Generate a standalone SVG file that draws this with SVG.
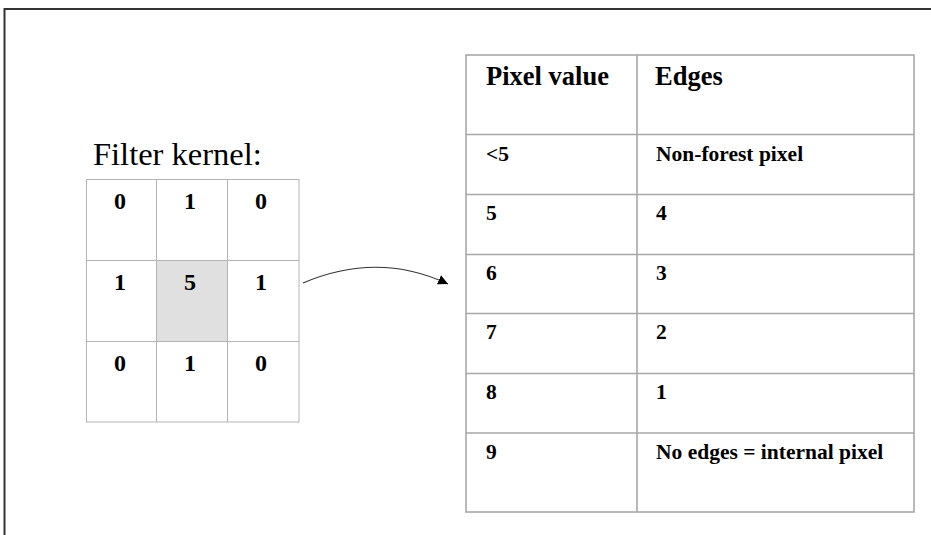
<svg xmlns="http://www.w3.org/2000/svg" width="931" height="535" viewBox="0 0 931 535">
<style>
.frame{stroke:#333;stroke-width:2;fill:none}
.kl{stroke:#b4b4b4;stroke-width:1;fill:none}
.tl{stroke:#a8a8a8;stroke-width:1.6;fill:none}
.kt{font-family:"Liberation Serif",serif;font-weight:bold;font-size:24px;fill:#000;text-anchor:middle}
.tt{font-family:"Liberation Serif",serif;font-weight:bold;font-size:21.5px;fill:#000}
.th{font-family:"Liberation Serif",serif;font-weight:bold;font-size:26.5px;fill:#000}
.title{font-family:"Liberation Serif",serif;font-size:32.5px;fill:#000}
</style>
<defs>
<marker id="ah" viewBox="0 0 10 10" refX="10" refY="5" markerWidth="10" markerHeight="10" markerUnits="userSpaceOnUse" orient="auto">
<path d="M0,0 L10,5 L0,10 Z" fill="#000"/>
</marker>
</defs>
<rect width="931" height="535" fill="#fff"/>
<path class="frame" d="M4.5,535 V9 H931"/>
<g id="kernel">
<text class="title" x="93" y="165">Filter kernel:</text>
<rect x="156" y="260" width="71" height="81" fill="#e0e0e0"/>
<rect class="kl" x="86.5" y="179.5" width="212.5" height="242.5"/>
<path class="kl" d="M156.5,179.5 V422 M227.5,179.5 V422 M86.5,260.5 H299 M86.5,341.5 H299"/>
<text class="kt" x="120" y="209">0</text>
<text class="kt" x="190" y="209">1</text>
<text class="kt" x="261" y="209">0</text>
<text class="kt" x="120" y="290">1</text>
<text class="kt" x="190" y="290">5</text>
<text class="kt" x="261" y="290">1</text>
<text class="kt" x="120" y="371">0</text>
<text class="kt" x="190" y="371">1</text>
<text class="kt" x="261" y="371">0</text>
</g>
<g id="connectors">
<path d="M303,283 Q378,251 448,284" fill="none" stroke="#333" stroke-width="1.2" marker-end="url(#ah)"/>
</g>
<g id="table">
<rect class="tl" x="466" y="55" width="448" height="457"/>
<path class="tl" d="M637,55 V512 M466,134.5 H914 M466,194.5 H914 M466,254.5 H914 M466,313.5 H914 M466,373.5 H914 M466,433 H914"/>
<text class="th" x="486" y="85">Pixel value</text>
<text class="th" x="655" y="85">Edges</text>
<text class="tt" x="486" y="161">&lt;5</text>
<text class="tt" x="656" y="161">Non-forest pixel</text>
<text class="tt" x="486" y="220">5</text>
<text class="tt" x="656" y="220">4</text>
<text class="tt" x="486" y="280">6</text>
<text class="tt" x="656" y="280">3</text>
<text class="tt" x="486" y="339">7</text>
<text class="tt" x="656" y="339">2</text>
<text class="tt" x="486" y="399">8</text>
<text class="tt" x="656" y="399">1</text>
<text class="tt" x="486" y="459">9</text>
<text class="tt" x="656" y="459">No edges = internal pixel</text>
</g>
</svg>
